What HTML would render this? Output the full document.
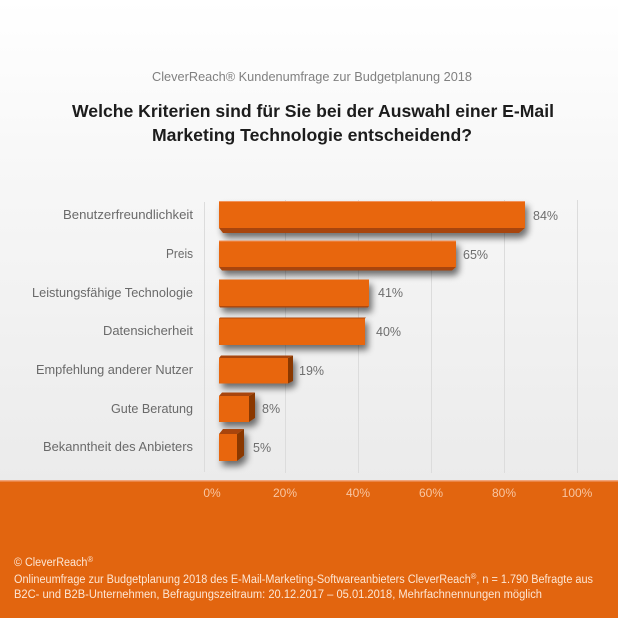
<!DOCTYPE html>
<html><head><meta charset="utf-8"><style>
html,body{margin:0;padding:0;background:#fff;}
svg{display:block;}
text{font-family:"Liberation Sans",sans-serif;}
</style></head><body>
<svg width="618" height="618" viewBox="0 0 618 618" xmlns="http://www.w3.org/2000/svg">
<defs>
<linearGradient id="bg" x1="0" y1="0" x2="0" y2="1">
<stop offset="0" stop-color="#ffffff"/>
<stop offset="0.35" stop-color="#f7f7f7"/>
<stop offset="1" stop-color="#ebebeb"/>
</linearGradient>
<filter id="sh" x="-10%" y="-50%" width="130%" height="250%">
<feGaussianBlur in="SourceAlpha" stdDeviation="3.5"/>
<feOffset dx="3" dy="5" result="b"/>
<feComponentTransfer><feFuncA type="linear" slope="0.55"/></feComponentTransfer>
<feMerge><feMergeNode/><feMergeNode in="SourceGraphic"/></feMerge>
</filter>
</defs>
<rect x="0" y="0" width="618" height="482" fill="url(#bg)"/>

<!-- subtitle / title -->
<text x="152" y="81" font-size="12.5" fill="#808080" textLength="320" lengthAdjust="spacingAndGlyphs">CleverReach® Kundenumfrage zur Budgetplanung 2018</text>
<text x="72" y="117" font-size="17.5" font-weight="bold" fill="#1c1c1c" textLength="482" lengthAdjust="spacingAndGlyphs">Welche Kriterien sind für Sie bei der Auswahl einer E-Mail</text>
<text x="152" y="141" font-size="17.5" font-weight="bold" fill="#1c1c1c" textLength="320" lengthAdjust="spacingAndGlyphs">Marketing Technologie entscheidend?</text>

<!-- grid -->
<g stroke="#dcdcdc" stroke-width="1">
<line x1="204.5" y1="202" x2="204.5" y2="472"/>
<line x1="285.5" y1="200" x2="285.5" y2="473"/>
<line x1="358.5" y1="200" x2="358.5" y2="473"/>
<line x1="431.5" y1="200" x2="431.5" y2="473"/>
<line x1="504.5" y1="200" x2="504.5" y2="473"/>
<line x1="577.5" y1="200" x2="577.5" y2="473"/>
</g>

<!-- category labels -->
<g font-size="12.5" fill="#6a6a6a" text-anchor="end">
<text x="193" y="219" textLength="130" lengthAdjust="spacingAndGlyphs">Benutzerfreundlichkeit</text>
<text x="193" y="258" textLength="27" lengthAdjust="spacingAndGlyphs">Preis</text>
<text x="193" y="297" textLength="161" lengthAdjust="spacingAndGlyphs">Leistungsfähige Technologie</text>
<text x="193" y="335" textLength="90" lengthAdjust="spacingAndGlyphs">Datensicherheit</text>
<text x="193" y="374" textLength="157" lengthAdjust="spacingAndGlyphs">Empfehlung anderer Nutzer</text>
<text x="193" y="413" textLength="82" lengthAdjust="spacingAndGlyphs">Gute Beratung</text>
<text x="193" y="451" textLength="150" lengthAdjust="spacingAndGlyphs">Bekanntheit des Anbieters</text>
</g>

<!-- bars -->
<g filter="url(#sh)">
<!-- 1: 84% -->
<polygon points="219,228 525,228 519,233 223,233" fill="#a84507"/>
<rect x="219" y="201" width="306" height="27" fill="#e8660c"/>
<rect x="219" y="201" width="306" height="1" fill="#f2925a"/>
<!-- 2: 65% -->
<polygon points="219,267 456,267 452,270.5 222,270.5" fill="#a84507"/>
<rect x="219" y="240.5" width="237" height="26.5" fill="#e8660c"/>
<rect x="219" y="240.5" width="237" height="1" fill="#f2925a"/>
<!-- 3: 41% -->
<polygon points="219,306 369,306 368,307.5 220,307.5" fill="#b04a08"/>
<rect x="219" y="279.5" width="150" height="26.5" fill="#e8660c"/>
<!-- 4: 40% -->
<polygon points="220,317.5 366,317.5 365,318.5 219,318.5" fill="#b04a08"/>
<rect x="219" y="318.5" width="146" height="26.5" fill="#e8660c"/>
<!-- 5: 19% -->
<polygon points="219,358 221,355.5 293,355.5 288,358" fill="#a84507"/>
<polygon points="288,358 293,355.5 293,381 288,383.5" fill="#8a3806"/>
<rect x="219" y="358" width="69" height="25.5" fill="#e8660c"/>
<!-- 6: 8% -->
<polygon points="219,396 222,392.5 255,392.5 249,396" fill="#a84507"/>
<polygon points="249,396 255,392.5 255,418 249,422" fill="#8a3806"/>
<rect x="219" y="396" width="30" height="26" fill="#e8660c"/>
<!-- 7: 5% -->
<polygon points="219,434 223,429 244,429 237,434" fill="#a84507"/>
<polygon points="237,434 244,429 244,455.5 237,461" fill="#8a3806"/>
<rect x="219" y="434" width="18" height="27" fill="#e8660c"/>
</g>

<!-- value labels -->
<g font-size="12.5" fill="#6e6e6e">
<text x="533" y="220">84%</text>
<text x="463" y="259">65%</text>
<text x="378" y="297">41%</text>
<text x="376" y="336">40%</text>
<text x="299" y="375">19%</text>
<text x="262" y="413">8%</text>
<text x="253" y="452">5%</text>
</g>

<!-- orange band -->
<rect x="0" y="481" width="618" height="137" fill="#e2650f"/>
<rect x="0" y="480" width="618" height="1.5" fill="#f1a47a"/>

<g font-size="12" fill="#f8c6a2" text-anchor="middle">
<text x="212" y="497">0%</text>
<text x="285" y="497">20%</text>
<text x="358" y="497">40%</text>
<text x="431" y="497">60%</text>
<text x="504" y="497">80%</text>
<text x="577" y="497">100%</text>
</g>

<!-- footer -->
<g font-size="11.5" fill="#fde6d4">
<text x="14" y="566" textLength="79" lengthAdjust="spacingAndGlyphs">© CleverReach<tspan font-size="8" dy="-4">®</tspan></text>
<text x="14" y="583" textLength="579" lengthAdjust="spacingAndGlyphs">Onlineumfrage zur Budgetplanung 2018 des E-Mail-Marketing-Softwareanbieters CleverReach<tspan font-size="8" dy="-4">®</tspan><tspan dy="4">, n = 1.790 Befragte aus</tspan></text>
<text x="14" y="598" textLength="528" lengthAdjust="spacingAndGlyphs">B2C- und B2B-Unternehmen, Befragungszeitraum: 20.12.2017 – 05.01.2018, Mehrfachnennungen möglich</text>
</g>
</svg>
</body></html>
